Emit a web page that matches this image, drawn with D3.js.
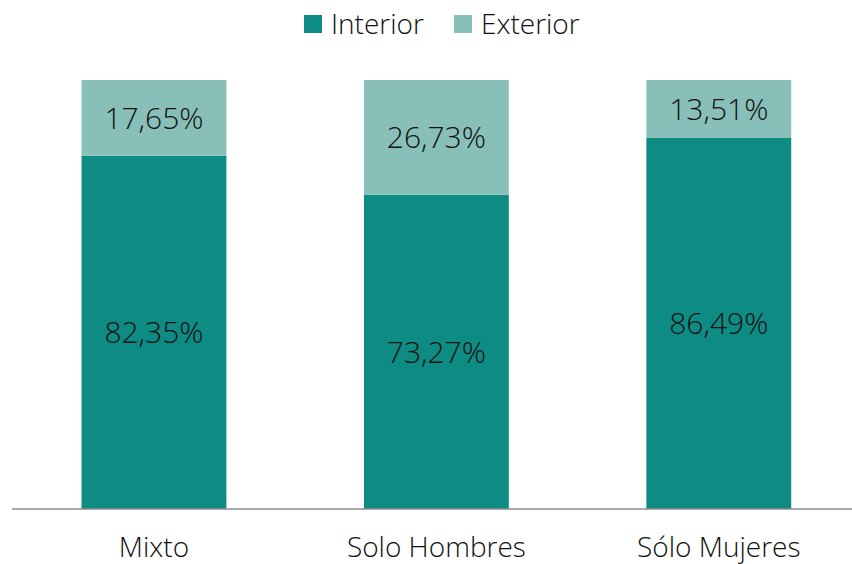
<!DOCTYPE html>
<html>
<head>
<meta charset="utf-8">
<script src="https://cdn.jsdelivr.net/npm/d3@7"></script>
<style>
  body { margin: 0; background: #fff; }
  text { font-family: "Open Sans", sans-serif; font-weight: 300; fill: #111; }
</style>
</head>
<body>
<svg id="chart"></svg>
<script>
// data
const categories = ["Mixto", "Solo Hombres", "Sólo Mujeres"];
const interior = [82.35, 73.27, 86.49];
const exterior = [17.65, 26.73, 13.51];
const seriesNames = ["Interior", "Exterior"];
const colors = ["#0e8c84", "#88c0b9"];

const width = 852, height = 564;
const svg = d3.select("#chart").attr("width", width).attr("height", height);

const x = d3.scaleBand()
  .domain(categories)
  .range([12.75, 860])
  .paddingInner(0.487)
  .paddingOuter(0.2435);

const y = d3.scaleLinear().domain([0, 100]).range([509, 80]);

const rows = categories.map((c, i) => ({ cat: c, Interior: interior[i], Exterior: exterior[i] }));
const stacked = d3.stack().keys(seriesNames)(rows);

const fmt = v => v.toFixed(2).replace(".", ",") + "%";

stacked.forEach((layer, li) => {
  const g = svg.append("g");
  g.selectAll("rect")
    .data(layer)
    .enter()
    .append("rect")
    .attr("x", d => x(d.data.cat))
    .attr("width", x.bandwidth())
    .attr("y", d => y(d[1]))
    .attr("height", d => y(d[0]) - y(d[1]))
    .attr("fill", colors[li]);

  g.selectAll("text")
    .data(layer)
    .enter()
    .append("text")
    .attr("x", d => x(d.data.cat) + x.bandwidth() / 2)
    .attr("y", d => (y(d[0]) + y(d[1])) / 2)
    .attr("dy", "0.36em")
    .attr("text-anchor", "middle")
    .attr("font-size", "30px")
    .text(d => fmt(d[1] - d[0]));
});

// axis line
svg.append("line")
  .attr("x1", 12).attr("x2", 852)
  .attr("y1", 509).attr("y2", 509)
  .attr("stroke", "#8c8c8c")
  .attr("stroke-width", 1.3);

// category labels
svg.selectAll(".cat")
  .data(categories)
  .enter()
  .append("text")
  .attr("class", "cat")
  .attr("x", d => x(d) + x.bandwidth() / 2)
  .attr("y", 557)
  .attr("text-anchor", "middle")
  .attr("font-size", "28px")
  .text(d => d);

// legend
const legendX = [304, 454];
const legend = svg.append("g");
seriesNames.forEach((s, i) => {
  legend.append("rect")
    .attr("x", legendX[i]).attr("y", 15)
    .attr("width", 18).attr("height", 18)
    .attr("fill", colors[i]);
  legend.append("text")
    .attr("x", legendX[i] + 27).attr("y", 34)
    .attr("font-size", "28px")
    .text(s);
});
</script>
</body>
</html>
